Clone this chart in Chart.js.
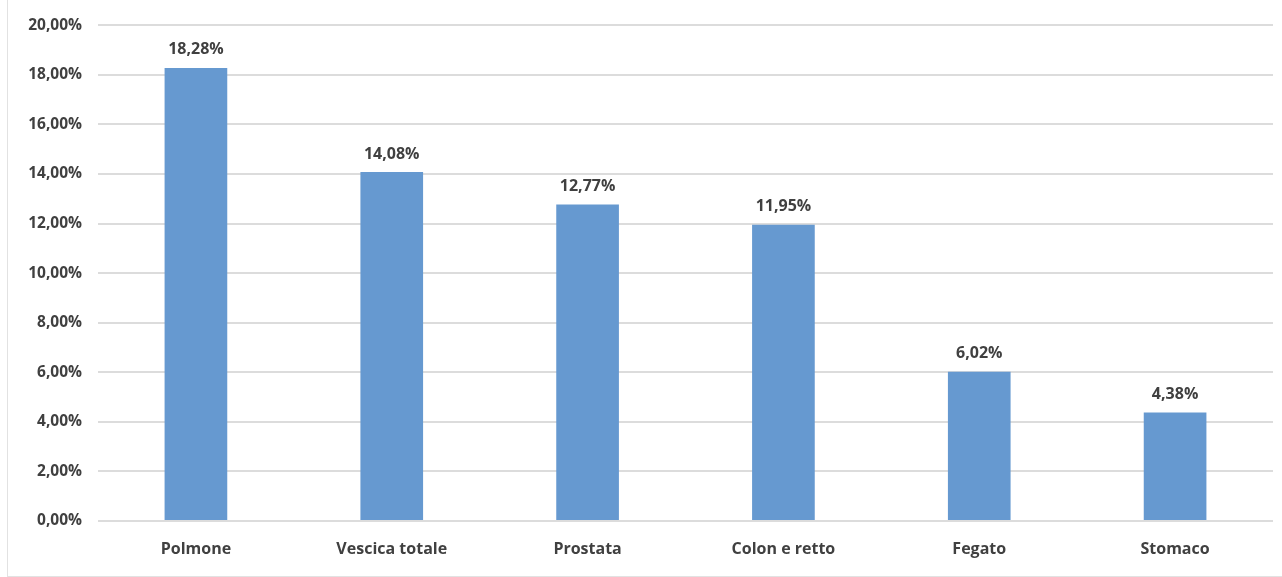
<!DOCTYPE html>
<html>
<head>
<meta charset="utf-8">
<script src="https://cdn.jsdelivr.net/npm/chart.js@4.4.0/dist/chart.umd.min.js"></script>
<style>
  html, body { margin: 0; padding: 0; background: #fff; }
  #wrap { position: relative; height: 577px; box-sizing: border-box; border-left: 1px solid #e2e2e2; border-bottom: 1px solid #e2e2e2; margin-left: 7px; width: 1275px; }
  canvas { display: block; }
</style>
</head>
<body>
<div id="wrap"><canvas id="chart"></canvas></div>
<script>
const categories = ['Polmone', 'Vescica totale', 'Prostata', 'Colon e retto', 'Fegato', 'Stomaco'];
const values = [18.28, 14.08, 12.77, 11.95, 6.02, 4.38];
const yMax = 20;
const yStep = 2;

const fmt = v => v.toFixed(2).replace('.', ',') + '%';

// draws the value above each bar
const valueLabels = {
  id: 'valueLabels',
  afterDatasetsDraw(chart) {
    const ctx = chart.ctx;
    const meta = chart.getDatasetMeta(0);
    ctx.save();
    ctx.font = 'bold 16px "Open Sans", sans-serif';
    ctx.fillStyle = '#404040';
    ctx.textAlign = 'center';
    ctx.textBaseline = 'bottom';
    meta.data.forEach((bar, i) => {
      ctx.fillText(fmt(values[i]), bar.x, bar.y - 10);
    });
    ctx.restore();
  }
};

new Chart(document.getElementById('chart'), {
  type: 'bar',
  data: {
    labels: categories,
    datasets: [{
      data: values,
      backgroundColor: '#6699d0',
      categoryPercentage: 1,
      barPercentage: 0.32
    }]
  },
  options: {
    responsive: true,
    maintainAspectRatio: false,
    animation: false,
    layout: { padding: { top: 20, right: 9, bottom: 0, left: 0 } },
    plugins: { legend: { display: false }, tooltip: { enabled: false } },
    scales: {
      x: {
        grid: { display: false, drawTicks: false },
        border: { display: false },
        ticks: { color: '#404040', padding: 19, font: { family: 'Open Sans', size: 16, weight: 'bold' } },
        afterFit: s => { s.height = 55; }
      },
      y: {
        min: 0,
        max: yMax,
        ticks: {
          stepSize: yStep,
          color: '#404040',
          padding: 16,
          font: { family: 'Open Sans', size: 15.5, weight: 'bold' },
          callback: v => fmt(v)
        },
        grid: { color: '#dcdcdc', lineWidth: 2, drawTicks: false },
        border: { display: false },
        afterFit: s => { s.width = 90; }
      }
    }
  },
  plugins: [valueLabels]
});
</script>
</body>
</html>
